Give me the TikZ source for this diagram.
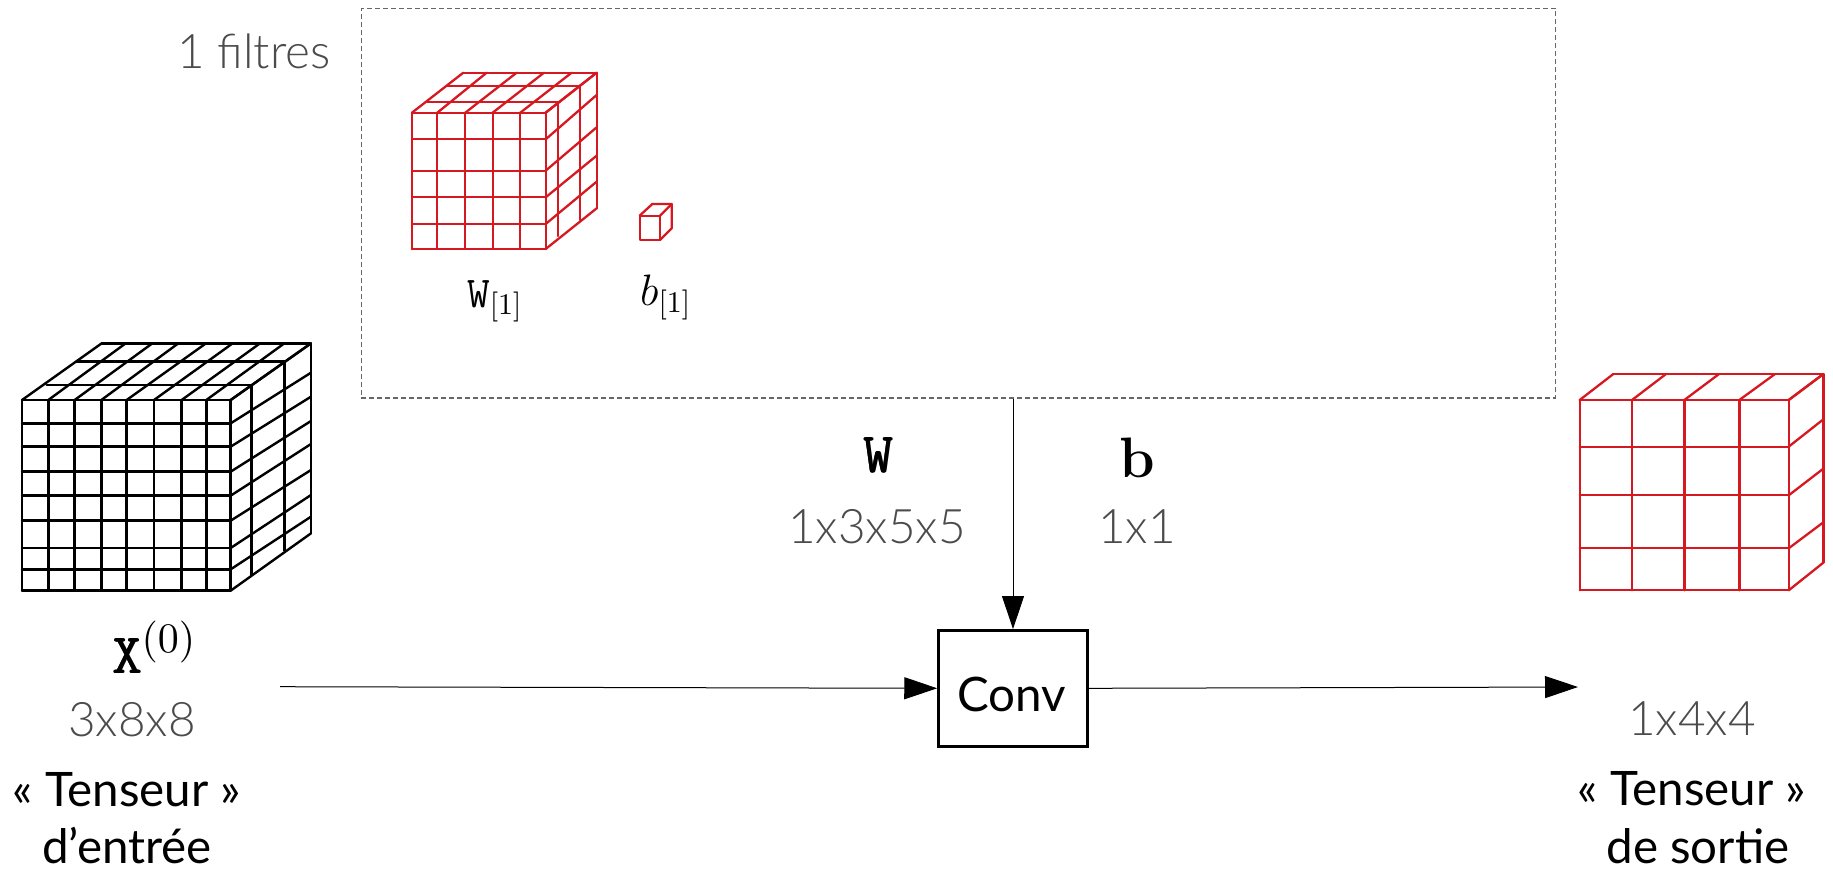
\RequirePackage{fix-cm}
\documentclass[tikz,border=0pt]{standalone}
\usepackage[no-math]{fontspec}
\setmainfont{Lato}
\newfontfamily\lightfont{Lato Light}
\font\supfont=cmr10 at 42pt
\font\subfont=cmr10 at 30pt
\newcommand{\fakeheavy}[1]{\rlap{$#1$}\kern0.8pt\rlap{$#1$}\kern-0.4pt\rlap{$#1$}\kern-0.4pt\mathord{\phantom{#1}}}
\usetikzlibrary{arrows.meta,calc}
\definecolor{cubered}{RGB}{214,25,32}
\definecolor{dimgrey}{RGB}{75,75,75}
\tikzset{
  px3/.style={x=0.33333pt,y=-0.33333pt},
  blackgrid/.style={line width=2.4pt,black,line join=round,line cap=round},
  redgrid/.style={line width=2.3pt,cubered,line join=round,line cap=round},
  main/.style={anchor=base,inner sep=0pt,font=\fontsize{47.5}{52}\selectfont},
  dims/.style={anchor=base,inner sep=0pt,text=dimgrey,font=\lightfont\fontsize{47.6}{50}\selectfont},
  mathbig/.style={anchor=base,inner sep=0pt,font=\fontsize{57}{60}\selectfont},
  mathsmall/.style={anchor=base west,inner sep=0pt,font=\fontsize{44}{48}\selectfont},
  conn/.style={line width=1pt,-{Triangle[length=33pt,width=22pt]}},
  filterbox/.style={draw=black!60,line width=1.3pt,dash pattern=on 5pt off 3pt,minimum width=1194.4pt,minimum height=389.7pt,inner sep=0pt},
  convbox/.style={draw,line width=2.5pt,minimum width=149pt,minimum height=116pt,inner sep=0pt}
}
\begin{document}
\begin{tikzpicture}[x=1pt,y=-1pt]
\useasboundingbox (0,0) rectangle (1833,876);
% input cube
\begin{scope}[shift={(0,320)},px3,blackgrid]
\foreach \x in {66,145,224,304,380,462,545,619,692} \draw (\x,240)--(\x,812);
\foreach \y in {240,310,380,455,527,602,684,748,812} \draw (66,\y)--(692,\y);
\foreach \a/\b in {66/305,145/377,224/457,304/535,380/618,462/698,545/780,619/853,692/933} \draw (\a,240)--(\b,70);
\foreach \a/\b in {240/70,310/158,380/230,455/303,527/372,602/450,684/525,748/590,812/640} \draw (692,\a)--(933,\b);
\draw (305,70)--(933,70)--(933,640);
\draw (140,195)--(755,195)--(755,765);
\draw (230,125)--(853,125)--(853,692);
\end{scope}
% W filter cube
\begin{scope}[shift={(390,50)},px3,redgrid]
\foreach \x in {66,142,226,308,391,467} \draw (\x,188)--(\x,597);
\foreach \y in {188,268,362,442,522,597} \draw (66,\y)--(467,\y);
\foreach \a/\b in {66/220,142/290,226/380,308/462,391/545,467/620} \draw (\a,188)--(\b,68);
\foreach \a/\b in {188/68,268/135,362/232,442/317,522/395,597/475} \draw (467,\a)--(620,\b);
\draw (220,68)--(620,68)--(620,475);
\draw (112,155)--(505,155)--(505,558);
\draw (172,108)--(570,108)--(570,510);
\end{scope}
% b filter cube
\begin{scope}[shift={(390,50)},px3,redgrid]
\draw (749,497) rectangle (810,570);
\draw (749,497)--(787,462)--(845,462)--(845,535)--(810,570);
\draw (810,497)--(845,462);
\end{scope}
% output cube
\begin{scope}[shift={(1560,350)},px3,redgrid]
\foreach \x in {59,216,373,538,686} \draw (\x,150)--(\x,721);
\foreach \y in {150,290,436,595,721} \draw (59,\y)--(686,\y);
\foreach \a/\b in {59/160,216/318,373/477,538/645,686/790} \draw (\a,150)--(\b,72);
\foreach \a/\b in {150/72,290/208,436/356,595/517,721/638} \draw (686,\a)--(790,\b);
\draw (163,72)--(790,72)--(790,638);
\end{scope}
% boxes
\node[filterbox] (filters) at (958.5,203.2) {};
\node[convbox] (conv) at (1013,688.3) {};
\node[main] (convlabel) at (1012,711) {Conv};
% labels
\node[dims] (nfilters) at (254,68) {1 filtres};
\node[mathsmall] (wsub) at (467,307) {$\mathtt{W}_{\mbox{\subfont [1]}}$};
\node[mathsmall] (bsub) at (640,305) {$b_{\mbox{\subfont [1]}}$};
\node[mathbig] (xlabel) at (154,673) {$\fakeheavy{\mathtt{X}}^{\mbox{\supfont (0)}}$};
\node[dims] (xdim) at (132,736) {3x8x8};
\node[main] (intxt) at (127,806.5) {« Tenseur »};
\node[main] (intxtb) at (127,863) {d’entrée};
\node[mathbig] (wlabel) at (878,472) {$\fakeheavy{\mathtt{W}}$};
\node[dims] (wdim) at (877,543) {1x3x5x5};
\node[mathbig] (blabel) at (1137,477) {$\mathbf{b}$};
\node[dims] (bdim) at (1137,543) {1x1};
\node[dims] (odim) at (1692,735) {1x4x4};
\node[main] (outtxt) at (1692,805) {« Tenseur »};
\node[main] (outtxtb) at (1698,863) {de sortie};
% connectors
\coordinate (infree) at (280,686.7);
\coordinate (outfree) at (1578,687);
\draw[conn] (conv.north |- filters.south) -- (conv.north);
\draw[conn] (infree) -- (conv.west);
\draw[conn] (conv.east) -- (outfree);
\end{tikzpicture}
\end{document}
